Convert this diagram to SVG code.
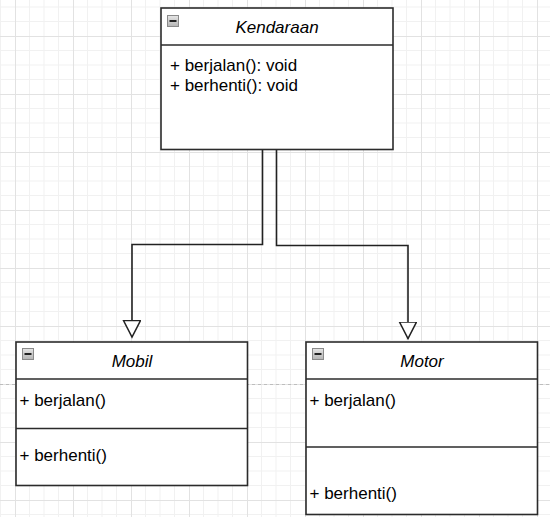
<svg xmlns="http://www.w3.org/2000/svg" width="550" height="517" viewBox="0 0 550 517">
  <defs>
    <pattern id="grid" patternUnits="userSpaceOnUse" x="15" y="36" width="58" height="58">
      <path d="M14.5 0V58M29 0V58M43.5 0V58M0 14.5H58M0 29H58M0 43.5H58" stroke="#f1f1f1" stroke-width="1" fill="none"/>
      <path d="M0.5 0V58M0 0.5H58" stroke="#e2e2e2" stroke-width="1" fill="none"/>
    </pattern>
    <linearGradient id="ig" x1="0" y1="0" x2="0" y2="1">
      <stop offset="0" stop-color="#e6e6e6"/>
      <stop offset="1" stop-color="#b4b4b4"/>
    </linearGradient>
    <marker id="tri" markerUnits="userSpaceOnUse" markerWidth="20" markerHeight="20" refX="17" refY="9" orient="auto">
      <path d="M0.5 0.5L17 9L0.5 17.5Z" fill="#ffffff" stroke="#222222" stroke-width="1.5"/>
    </marker>
  </defs>
  <style>
    .box{fill:#ffffff;stroke:#2b2b2b;stroke-width:1.6}
    .sep{stroke:#2b2b2b;stroke-width:1.6;fill:none}
    .title{font-family:"Liberation Sans",Arial,sans-serif;font-size:17px;font-style:italic;fill:#000;text-anchor:middle}
    .mem{font-family:"Liberation Sans",Arial,sans-serif;font-size:17px;fill:#000}
    .icon{fill:url(#ig);stroke:#8a8a8a;stroke-width:1}
    .minus{stroke:#222;stroke-width:2}
    .edge{fill:none;stroke:#222222;stroke-width:1.6}
  </style>
  <rect width="550" height="517" fill="#ffffff"/>
  <rect width="550" height="517" fill="url(#grid)"/>
  <line x1="0" y1="384.5" x2="550" y2="384.5" stroke="#bdbdbd" stroke-width="1" stroke-dasharray="3,3"/>

  <g id="connectors">
    <path class="edge" d="M262.5 149.5V244.5H132V337" marker-end="url(#tri)"/>
    <path class="edge" d="M276.5 149.5V245.5H408V338.5" marker-end="url(#tri)"/>
  </g>

  <g id="kendaraan">
    <rect class="box" x="161" y="8" width="232" height="141.5"/>
    <line class="sep" x1="161" y1="45" x2="393" y2="45"/>
    <rect class="icon" x="167.5" y="15.5" width="11" height="11"/>
    <line class="minus" x1="169.5" y1="21" x2="176.5" y2="21"/>
    <text class="title" x="277" y="32.5">Kendaraan</text>
    <text class="mem" x="170" y="71">+ berjalan(): void</text>
    <text class="mem" x="170" y="91">+ berhenti(): void</text>
  </g>

  <g id="mobil">
    <rect class="box" x="16" y="342" width="231.5" height="143.5"/>
    <line class="sep" x1="16" y1="379" x2="247.5" y2="379"/>
    <line class="sep" x1="16" y1="428.5" x2="247.5" y2="428.5"/>
    <rect class="icon" x="22.5" y="348.5" width="11" height="11"/>
    <line class="minus" x1="24.5" y1="354" x2="31.5" y2="354"/>
    <text class="title" x="132" y="366.5">Mobil</text>
    <text class="mem" x="19.5" y="406">+ berjalan()</text>
    <text class="mem" x="19.5" y="461">+ berhenti()</text>
  </g>

  <g id="motor">
    <rect class="box" x="306" y="342" width="231.5" height="172.5"/>
    <line class="sep" x1="306" y1="379" x2="537.5" y2="379"/>
    <line class="sep" x1="306" y1="447" x2="537.5" y2="447"/>
    <rect class="icon" x="312.5" y="348.5" width="11" height="11"/>
    <line class="minus" x1="314.5" y1="354" x2="321.5" y2="354"/>
    <text class="title" x="422" y="366.5">Motor</text>
    <text class="mem" x="309.5" y="406">+ berjalan()</text>
    <text class="mem" x="309.5" y="498.5">+ berhenti()</text>
  </g>
</svg>
